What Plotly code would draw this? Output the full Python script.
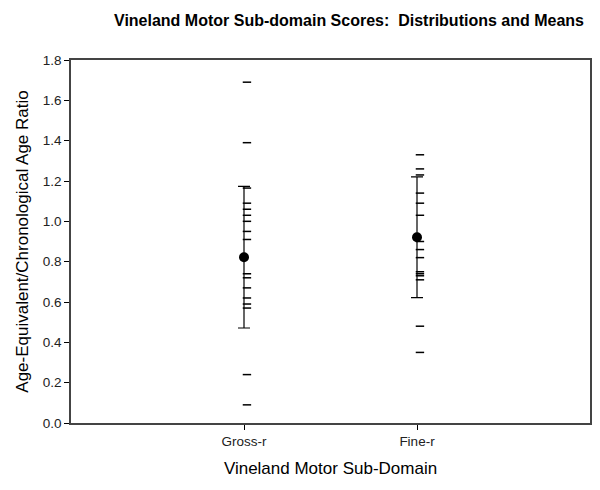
import plotly.graph_objects as go

categories = ["Gross-r", "Fine-r"]
cat_pos = [1, 2]
gross_values = [1.69, 1.39, 1.165, 1.09, 1.06, 1.03, 1.00, 0.95, 0.91,
                0.74, 0.72, 0.67, 0.62, 0.59, 0.57, 0.24, 0.09]
fine_values = [1.33, 1.26, 1.23, 1.14, 1.09, 1.03, 0.90, 0.86, 0.82,
               0.75, 0.74, 0.73, 0.71, 0.48, 0.35]
means = [0.822, 0.921]
errors = [0.351, 0.299]
y_ticks = [0.0, 0.2, 0.4, 0.6, 0.8, 1.0, 1.2, 1.4, 1.6, 1.8]

dash_offset = 0.017
font = "Liberation Sans, Arial, sans-serif"

fig = go.Figure()
for pos, vals in zip(cat_pos, [gross_values, fine_values]):
    fig.add_trace(go.Scatter(
        x=[pos + dash_offset] * len(vals), y=vals, mode="markers",
        marker=dict(symbol="line-ew", size=6, color="black",
                    line=dict(color="black", width=1.5)),
        showlegend=False, hoverinfo="y"))

fig.add_trace(go.Scatter(
    x=cat_pos, y=means, mode="markers",
    marker=dict(symbol="circle", size=10, color="black"),
    error_y=dict(type="data", array=errors, visible=True, color="black",
                 thickness=1.2, width=6),
    showlegend=False))

fig.update_layout(
    width=600, height=490,
    margin=dict(l=71, r=10, t=60, b=67, autoexpand=False),
    paper_bgcolor="white", plot_bgcolor="white",
    font=dict(family=font, color="black"),
    title=dict(text="<b>Vineland Motor Sub-domain Scores:  Distributions and Means</b>",
               x=349/600, xanchor="center", y=1 - 20/490, yanchor="middle",
               font=dict(size=16, family=font, color="black")),
)
fig.update_xaxes(
    range=[0, 3], tickvals=cat_pos, ticktext=categories,
    ticks="outside", ticklen=5, tickcolor="black", tickwidth=1,
    showgrid=False, zeroline=False, showline=True, linecolor="#444",
    linewidth=1.5, mirror=True, automargin=False,
    tickfont=dict(size=13.5, color="#222"),
    title=dict(text="Vineland Motor Sub-Domain", font=dict(size=17), standoff=14),
)
fig.update_yaxes(
    range=[0, 1.8], tickvals=y_ticks, tickformat=".1f",
    ticks="outside", ticklen=5, tickcolor="black", tickwidth=1,
    showgrid=False, zeroline=False, showline=True, linecolor="#444",
    linewidth=1.5, mirror=True, automargin=False,
    tickfont=dict(size=13.5, color="#222"),
    title=dict(text="Age-Equivalent/Chronological Age Ratio", font=dict(size=17), standoff=10),
)

fig.write_html("out.html", config={"displayModeBar": False},
               post_script="document.body.style.margin='0';document.body.style.overflow='hidden';")
